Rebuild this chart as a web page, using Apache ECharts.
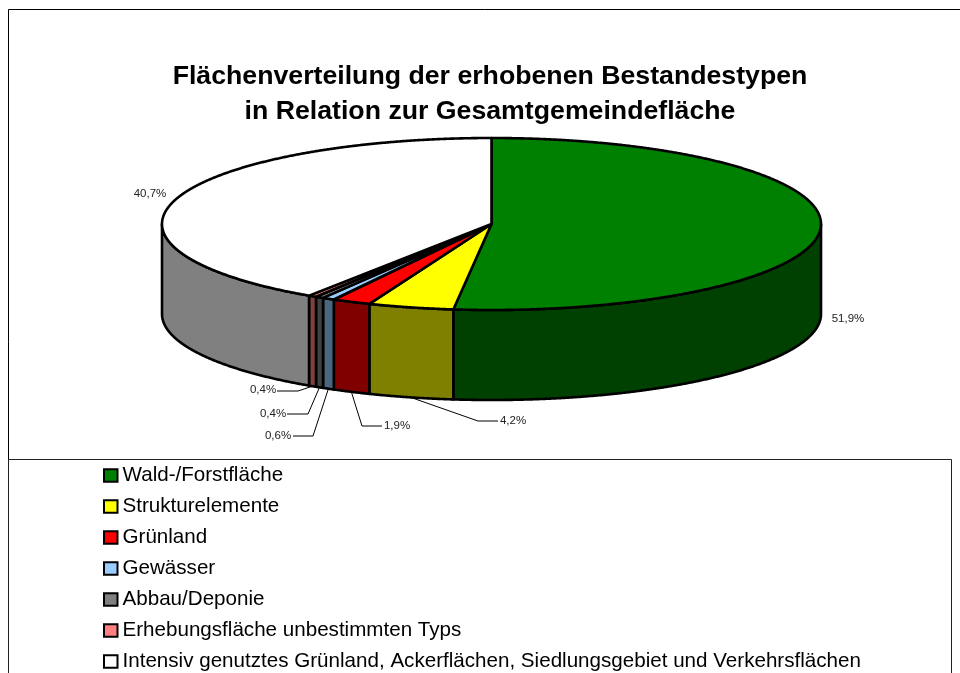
<!DOCTYPE html>
<html>
<head>
    <meta charset="UTF-8">
    <title>Flächenverteilung</title>
    <script src="https://cdn.jsdelivr.net/npm/echarts@6/dist/echarts.min.js"></script>
    <style>
        html, body { margin: 0; padding: 0; background: #fff; }
        #container { width: 960px; height: 673px; }
    </style>
</head>
<body>
<div id="container"></div>
<script>
    // Daten
    var categories = ['Wald-/Forstfläche', 'Strukturelemente', 'Grünland', 'Gewässer', 'Abbau/Deponie',
        'Erhebungsfläche unbestimmten Typs', 'Intensiv genutztes Grünland, Ackerflächen, Siedlungsgebiet und Verkehrsflächen'];
    var shares = [51.9, 4.2, 1.9, 0.6, 0.4, 0.4, 40.7];
    var shareLabels = ['51,9%', '4,2%', '1,9%', '0,6%', '0,4%', '0,4%', '40,7%'];

    // Farben: Oberseite / Mantel
    var topColors = ['#008000', '#ffff00', '#ff0000', '#99ccff', '#808080', '#ff8080', '#ffffff'];
    var wallColors = ['#004000', '#808000', '#800000', '#4d6680', '#404040', '#804040', '#808080'];

    // Geometrie der Scheibe
    var cx = 491.5, cy = 224, rx = 329.5, ry = 86, depth = 90;
    var FONT = '"Liberation Sans", Arial, sans-serif';

    // Beschriftungen: Textposition, Knick der Führungslinie (null = keine Linie)
    var labelX = [848, 513, 397, 278, 273, 263, 150];
    var labelY = [319, 421, 426, 436, 414, 390, 194];
    var elbows = [null, [[478, 421], [498, 421]], [[362, 426], [382, 426]], [[313, 436], [293, 436]],
        [[308, 414], [287, 414]], [[298, 391], [277, 391]], null];

    var total = shares.reduce(function (a, b) { return a + b; }, 0);
    var starts = [];
    var sum = 0;
    for (var i = 0; i < shares.length; i++) {
        starts.push(sum);
        sum += shares[i];
    }

    function angleOf(v) {
        return echarts.number.linearMap(v, [0, total], [0, Math.PI * 2]);
    }
    // Winkel ab 12 Uhr im Uhrzeigersinn
    function rimPoint(a, dy) {
        return [cx + rx * Math.sin(a), cy - ry * Math.cos(a) + (dy || 0)];
    }
    function arc(a0, a1, dy) {
        var pts = [];
        var n = Math.max(2, Math.ceil((a1 - a0) / 0.004));
        for (var k = 0; k <= n; k++) {
            pts.push(rimPoint(a0 + (a1 - a0) * k / n, dy));
        }
        return pts;
    }

    function renderSlice(idx, params, api) {
        var a0 = angleOf(starts[idx]);
        var a1 = angleOf(starts[idx] + api.value(0));
        var children = [];

        // sichtbarer Mantel nur vorne (90 bis 270 Grad)
        var w0 = Math.max(a0, Math.PI / 2);
        var w1 = Math.min(a1, Math.PI * 1.5);
        if (w1 > w0) {
            children.push({
                type: 'polygon',
                z2: 1,
                shape: { points: arc(w0, w1, 0).concat(arc(w0, w1, depth).reverse()) },
                style: { fill: wallColors[idx], stroke: '#000', lineWidth: 2.6, lineJoin: 'round' }
            });
        }
        children.push({
            type: 'polygon',
            z2: 2,
            shape: { points: [[cx, cy]].concat(arc(a0, a1, 0)) },
            style: { fill: topColors[idx], stroke: '#000', lineWidth: 2.6, lineJoin: 'round' }
        });
        if (elbows[idx]) {
            children.push({
                type: 'polyline',
                z2: 3,
                shape: { points: [rimPoint((a0 + a1) / 2, depth)].concat(elbows[idx]) },
                style: { fill: null, stroke: '#000', lineWidth: 1 }
            });
        }
        children.push({
            type: 'text',
            z2: 4,
            style: {
                text: shareLabels[idx], x: labelX[idx], y: labelY[idx],
                align: 'center', verticalAlign: 'middle',
                font: '11.5px ' + FONT, fill: '#222'
            }
        });
        return { type: 'group', children: children };
    }

    var series = categories.map(function (name, idx) {
        return {
            type: 'custom',
            name: name,
            coordinateSystem: 'none',
            silent: true,
            clip: false,
            itemStyle: { color: topColors[idx], borderColor: '#000', borderWidth: 2.4 },
            data: [[shares[idx]]],
            renderItem: function (params, api) { return renderSlice(idx, params, api); }
        };
    });

    var chart = echarts.init(document.getElementById('container'), null, { renderer: 'canvas' });
    chart.setOption({
        animation: false,
        backgroundColor: '#fff',
        title: {
            text: 'Flächenverteilung der erhobenen Bestandestypen\nin Relation zur Gesamtgemeindefläche',
            left: 485,
            top: 54,
            textAlign: 'center',
            textStyle: { fontFamily: FONT, fontSize: 26.7, fontWeight: 'bold', color: '#000', lineHeight: 35 }
        },
        legend: {
            orient: 'vertical',
            left: 103,
            top: 461.5,
            height: 260,
            padding: 0,
            itemWidth: 13.5,
            itemHeight: 12.5,
            itemGap: 3,
            selectedMode: false,
            icon: 'rect',
            textStyle: { fontFamily: FONT, fontSize: 20.6, color: '#000', lineHeight: 22, padding: [6, 0, 0, 0] },
            data: categories
        },
        graphic: [
            {
                type: 'rect', z: -1, silent: true,
                shape: { x: 8.5, y: 9.5, width: 1000, height: 800 },
                style: { fill: '#fff', stroke: '#000', lineWidth: 1 }
            },
            {
                type: 'rect', z: -1, silent: true,
                shape: { x: 8.5, y: 459.5, width: 943, height: 400 },
                style: { fill: '#fff', stroke: '#222', lineWidth: 1 }
            }
        ],
        series: series
    });
</script>
</body>
</html>
